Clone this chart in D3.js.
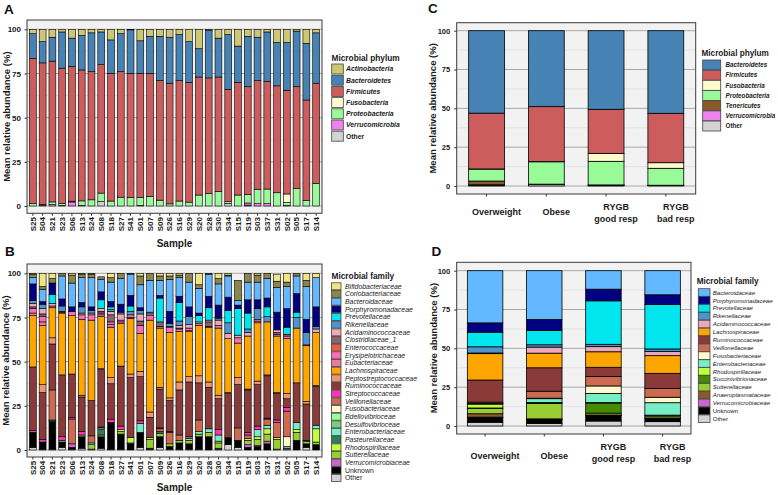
<!DOCTYPE html>
<html><head><meta charset="utf-8">
<script src="https://cdn.jsdelivr.net/npm/d3@7"></script>
<style>body{margin:0;background:#fff}svg{display:block}</style>
</head><body><svg id="c" width="778" height="495"></svg>
<script>
// ---------------- DATA ----------------
const samples = ["S25","S04","S21","S23","S06","S13","S24","S08","S18","S27","S41","S01","S07","S09","S26","S16","S29","S20","S28","S30","S34","S15","S19","S03","S37","S31","S02","S05","S17","S14"];

// Panel A: phylum per sample (legend order = top of stack first)
const phylaA = ["Actinobacteria","Bacteroidetes","Firmicutes","Fusobacteria","Proteobacteria","Verrucomicrobia","Other"];
const aActinobacteria = [2.5,7,4.5,1.5,5,3.5,2,1.5,6,2.5,0.3,6.5,4,4,4.5,3,7,11,0.5,5,3,9.5,4,4.5,1.5,7.5,7.5,1,8,2];
const aBacteroidetes = [14,12,13.5,20.5,16,19.5,22,18.5,19,21.5,24.7,18.5,21,25,26,26,23,16,27,22,31,20.5,28.5,24.5,28,24.5,27,31.5,32,28.5];
const aFirmicutes = [82.2,80.2,79.7,76.5,76.3,74.1,72.5,72.7,72.2,71,70.2,70.2,69.7,67.7,68.3,68.2,67.8,66.8,65.5,64.8,63.5,63.8,61,61.5,60.9,60.5,58.7,57.7,57,56.7];
const aFusobacteria = [0,0,0,0,0,0,0,0,0,0,0,0,0,0,0,0,0,0,0,0,0,0,0,0,0,0,4.8,0,0,0];
const aProteobacteria = [1.3,0.3,1.5,1.2,0.4,2.6,3.5,4.8,2.8,5,4.8,4.5,5.3,3.3,1.2,2.8,2.2,6.2,7,8.2,1.0,6.2,4.8,8.2,8.3,7.5,1.7,9.8,3,12.8];
const aVerrucomicrobia = [0,0,0.8,0,2.3,0,0,0,0,0,0,0,0,0,0,0,0,0,0,0,0,0,1.2,1.3,1.3,0,0,0,0,0];
const aOther = [0,0.5,0,0.3,0,0.3,0,2.5,0,0,0,0.3,0,0,0,0,0,0,0,0,1.5,0,0.5,0,0,0,0.3,0,0,0];

// Panel B: family per sample
const familiesB = ["Bifidobacteriaceae","Coriobacteriaceae","Bacteroidaceae","Porphyromonadaceae","Prevotellaceae","Rikenellaceae","Acidaminococcaceae","Clostridiaceae_1","Enterococcaceae","Erysipelotrichaceae","Eubacteriaceae","Lachnospiraceae","Peptostreptococcaceae","Ruminococcaceae","Streptococcaceae","Veillonellaceae","Fusobacteriaceae","Bdellovibrioceae","Desulfovibrioceae","Enterobacteriaceae","Pasteurellaceae","Rhodospirillaceae","Sutterellaceae","Verrucomicrobiaceae","Unknown","Other"];
const bBifidobacteriaceae = [0.5,7.5,3,0,1,0.5,0.5,0,2.5,0,0,1.5,0,1.5,1.5,1,0,6.5,0,3,1,0,0,1,0,4,5,0,4,2.5];
const bCoriobacteriaceae = [2,1.5,2.5,1.5,4.5,2,2,1.5,2.5,3,0.5,5,4,2.5,2,1.5,5,2,0.5,3,0.5,11.5,5,4,3,3.5,2.5,1.5,3.5,0];
const bBacteroidaceae = [3.5,7,0,13,13.5,14,16.5,7,11,14.5,12,13,18,8.5,18,10.5,14,14,12.5,12,12,2.5,10,10,11,14,12.5,10,18.5,16.5];
const bPorphyromonadaceae = [9.5,1.5,6.5,4,2.5,2.5,2,4.5,3,4.5,6,1.5,0,1.5,7,3.5,5.5,1.5,6.5,7,7.5,2,7.5,5,5,10,10.5,10.5,7.5,11];
const bPrevotellaceae = [0,0,5,0,0,0,0,5,1.5,0,3,0,0,13.5,0,10.5,0,3.5,7,0.5,7,15,9,0,5.5,0,4,3,0,0];
const bRikenellaceae = [1.5,2.5,0,3,0,3.5,1.5,0,1,1,2,2,1,0,1.5,2.5,4.5,0,0,1,6,0,2,6,3,0,0,6,7,1.5];
const bAcidaminococcaceae = [2,3,1.5,0.5,0,1,1,1.5,2,3.5,0,4,1,0,0.5,1.5,2,1,1,3,3,1.5,2,1,0,1.5,0,0,0.5,2];
const bClostridiaceae_1 = [1,1.5,0,0,0,0,0,1,4,0,0,2.5,0,2.5,0,0,0,0,2.5,0,0,0,0,0,0,1,0,0,0,0];
const bEnterococcaceae = [0,0,0,0,0,0,0,0,0,0,0,0,0,0,0,0,0,0,0,0,0,0,0,0,0,0,1,0,0,0];
const bErysipelotrichaceae = [2.5,3,1,0.5,2.5,2.5,3,1,1.5,1,1.5,4.5,2.5,0,3,0.5,1.5,1,0,1.5,0,3,0,1,0,1,1.5,0,0,0];
const bEubacteriaceae = [1.5,2,0,0,0,0,0,1,1.5,1,0.5,0,0,1,0,1.5,0.5,0,0.5,0,0,0,0,0,0,0,0,0,0,0];
const bLachnospiraceae = [29,33.5,17,35,33,43,45.5,29.5,28.5,24,31.5,21.5,52,33.5,37,28.5,25.5,28.5,31,38,30.5,19.5,30,33,30,32,31,31,31.5,30];
const bPeptostreptococcaceae = [0,4.5,3.5,0,0,1,0,0.5,3.5,0,2,3,3,1,1.5,4.5,3,4,3,2,0.5,4,0.5,2,0.5,0.5,3,0,1.5,0.5];
const bRuminococcaceae = [36,26.5,26,35,24.5,19.5,20,32.5,20,34,34,25,11.5,22,17.5,25.5,31,21,23.5,17.5,25,24.5,24,23.5,24,15,5,22.5,20.5,22];
const bStreptococcaceae = [1,1.5,0,2,1,2,0,0.5,2,2,0,1.5,0,0.5,0.5,0,0,0,0,3,0,0,1.5,2,0.5,1.5,2,0,0,0];
const bVeillonellaceae = [0,0,17,0,14,0,4,0,0,0,0,0,0,1.5,6.5,3,1,6.5,0,0,0,7,2,0,3.5,8.5,14.5,0,0,0];
const bFusobacteriaceae = [0,0,0,0,0,0,0,0,0,0,0,0,0,0,0,0,0,0,0,0,0,0,0,0,0,0,5.5,0,0,0];
const bBdellovibrioceae = [0,0,0,0,0,0,0,0,0,0,0,0,0,0,0,0,0,0,0,0,0,0,0,0,0,0,0,0,0,0];
const bDesulfovibrioceae = [0,0,0,0,0,0,0,1,0,0,0,0,0,0,0,0,0,0,0,0,0,0,0,0,0,0,1,0,0,0];
const bEnterobacteriaceae = [0,0,0.5,0,0,0,1,0,0,0,0,5,0,0,0,0,1,1.5,2,3.5,0,0,0,4,2,0,0,4,0,2];
const bPasteurellaceae = [0,0,0,0,0,0,0,3,0,0,0,0,0,1,0,0,0,0,0,0,0,0,0,0,0,0,1,0,0.5,0];
const bRhodospirillaceae = [0,0,0,0,0,0,0,0,0,1,3,0,1,0,0,0,0,0,0,1,0,0,1,1.5,3,1,0,1.5,0,7.5];
const bSutterellaceae = [0,0,0.5,1,0,1,2.5,1,0,1.5,0.5,0,5,2,1.5,1.5,2,1.5,2.5,3,0,0,2.5,3.5,4,5.5,0,4.5,1.5,1.5];
const bVerrucomicrobiaceae = [0,0,0,0,2,0,0,0,0,0,0,0,0,0,0,0,0,0,0,0.5,0,0,1.5,0.5,1.5,0,0,0,0,0];
const bUnknown = [8.5,4,15.5,3,1,6.5,0,6.5,15,8.5,3.5,8.5,0.5,6,1.5,3.5,3,7,7.5,0,4,4,1.5,2,3.5,0,0,5.5,2,3];
const bOther = [1.5,0.5,0.5,1.5,0.5,1,0.5,1,0.5,0.5,0,1.5,0.5,1.5,0.5,0.5,0.5,0.5,0,0.5,3,1.5,0,0,0,0.5,0,0,1.5,0];

// Panel C: phylum per group
const groups = ["Overweight","Obese","RYGB good resp","RYGB bad resp"];
const groupLabels = [["Overweight"],["Obese"],["RYGB","good resp"],["RYGB","bad resp"]];
const phylaC = ["Bacteroidetes","Firmicutes","Fusobacteria","Proteobacteria","Tenericutes","Verrucomicrobia","Other"];
const cBacteroidetes = [53.1,48.9,50.6,53.2];
const cFirmicutes = [35.9,35.4,28.4,31.8];
const cFusobacteria = [0.1,0.1,5.1,3.6];
const cProteobacteria = [7.7,14.4,15.2,10.9];
const cTenericutes = [2.4,0.2,0.1,0.1];
const cVerrucomicrobia = [0.3,0.0,0.2,0.1];
const cOther = [0.5,1.0,0.4,0.3];

// Panel D: family per group
const familiesD = ["Bacteroidaceae","Porphyromonadaceae","Prevotellaceae","Rikenellaceae","Acidaminococcaceae","Lachnospiraceae","Ruminococcaceae","Veillonellaceae","Fusobacteriaceae","Enterobacteriaceae","Rhodospirillaceae","Succinivibrionaceae","Sutterellaceae","Anaeroplasmataceae","Verrucomicrobiaceae","Unknown","Other"];
const dBacteroidaceae = [33.6,31.4,11.9,15.5];
const dPorphyromonadaceae = [6.0,7.1,7.5,6.2];
const dPrevotellaceae = [9.4,9.2,28.0,28.7];
const dRikenellaceae = [4.0,1.5,1.5,1.7];
const dAcidaminococcaceae = [0.4,3.9,3.3,2.6];
const dLachnospiraceae = [17.0,9.4,10.0,11.4];
const dRuminococcaceae = [14.2,15.1,6.0,9.7];
const dVeillonellaceae = [0.8,4.5,6.0,5.7];
const dFusobacteriaceae = [0.2,0.3,4.8,3.5];
const dEnterobacteriaceae = [0.3,2.5,5.9,8.0];
const dRhodospirillaceae = [2.5,0.3,0.3,0.3];
const dSuccinivibrionaceae = [0.2,0.2,6.5,0.3];
const dSutterellaceae = [3.5,10.0,1.2,1.2];
const dAnaeroplasmataceae = [2.2,0.5,0.2,0.2];
const dVerrucomicrobiaceae = [0.3,0.2,0.2,0.1];
const dUnknown = [3.0,2.2,3.5,2.1];
const dOther = [2.4,1.7,3.2,2.8];

const yTicks = [0,25,50,75,100];

// ---------------- STYLE ----------------
const FONT = '"Liberation Sans", Arial, Helvetica, sans-serif';
const phylumColors = {Actinobacteria:"#CDC673",Bacteroidetes:"#4682B4",Firmicutes:"#CD5C5C",Fusobacteria:"#FFFACD",Proteobacteria:"#98FB98",Tenericutes:"#8B5A2B",Verrucomicrobia:"#EE82EE",Other:"#D3D3D3"};
const familyColors = {Bifidobacteriaceae:"#EEE685",Coriobacteriaceae:"#8B864E",Bacteroidaceae:"#63B8FF",Porphyromonadaceae:"#000080",Prevotellaceae:"#00E5EE",Rikenellaceae:"#4F94CD",Acidaminococcaceae:"#EEA9B8",Clostridiaceae_1:"#8B636C",Enterococcaceae:"#EE5C42",Erysipelotrichaceae:"#FF6EB4",Eubacteriaceae:"#EE799F",Lachnospiraceae:"#FFA500",Peptostreptococcaceae:"#EE9572",Ruminococcaceae:"#8B3A3A",Streptococcaceae:"#FF34B3",Veillonellaceae:"#CD6A50",Fusobacteriaceae:"#FFFACD",Bdellovibrioceae:"#9AFF9A",Desulfovibrioceae:"#7CCD7C",Enterobacteriaceae:"#76EEC6",Pasteurellaceae:"#2E7D5B",Rhodospirillaceae:"#C0FF3E",Sutterellaceae:"#9ACD32",Succinivibrionaceae:"#458B00",Anaeroplasmataceae:"#8B5A2B",Verrucomicrobiaceae:"#CC66CC",Unknown:"#000000",Other:"#D3D3D3"};

const svg = d3.select("#c").attr("font-family", FONT);
svg.append("rect").attr("width",778).attr("height",495).attr("fill","#fff");

function panel(o){
  const g = svg.append("g");
  const [x0,y0,x1,y1] = o.box;
  g.append("rect").attr("x",x0).attr("y",y0).attr("width",x1-x0).attr("height",y1-y0).attr("fill","#F2F2F2");
  const y = d3.scaleLinear().domain([0,100]).range([o.yZero,o.yHundred]);
  const minor = yTicks.slice(0,-1).map((v,i)=>(v+yTicks[i+1])/2);
  g.selectAll(null).data(minor).enter().append("line")
    .attr("x1",x0).attr("x2",x1).attr("y1",d=>y(d)).attr("y2",d=>y(d))
    .attr("stroke","#D9D9D9").attr("stroke-width",0.6);
  g.selectAll(null).data(yTicks).enter().append("line")
    .attr("x1",x0).attr("x2",x1).attr("y1",d=>y(d)).attr("y2",d=>y(d))
    .attr("stroke","#A8A8A8").attr("stroke-width",1);
  const x = d3.scaleBand().domain(o.cats).range([x0,x1]).paddingInner(o.pi).paddingOuter(o.po);
  const rows = o.cats.map((c,i)=>{const r={cat:c}; o.series.forEach(s=>{r[s.name]=s.values[i];}); return r;});
  const keys = o.series.map(s=>s.name).slice().reverse();
  const col = {}; o.series.forEach(s=>{col[s.name]=s.color;});
  const layers = d3.stack().keys(keys)(rows);
  g.selectAll(null).data(layers).enter().append("g").attr("fill",d=>col[d.key])
    .selectAll("rect").data(d=>d.filter(p=>p[1]-p[0]>0)).enter().append("rect")
    .attr("x",d=>x(d.data.cat)).attr("width",x.bandwidth())
    .attr("y",d=>y(d[1])).attr("height",d=>y(d[0])-y(d[1]))
    .attr("stroke","#000").attr("stroke-width",o.sw);
  g.append("rect").attr("x",x0).attr("y",y0).attr("width",x1-x0).attr("height",y1-y0)
    .attr("fill","none").attr("stroke","#3a3a3a").attr("stroke-width",1);
  const ya = g.append("g").attr("transform",`translate(${x0},0)`)
    .call(d3.axisLeft(y).tickValues(yTicks).tickSize(2.5).tickPadding(o.tickPad));
  ya.attr("font-family",FONT).attr("font-size",o.tickFs).attr("font-weight","bold");
  ya.select(".domain").remove();
  ya.selectAll("line").attr("stroke","#333");
  ya.selectAll("text").attr("fill","#1a1a1a");
  const xa = g.append("g").attr("transform",`translate(0,${y1})`)
    .call(d3.axisBottom(x).tickSize(2.5).tickSizeOuter(0));
  xa.attr("font-family",FONT).attr("font-size",o.xFs).attr("font-weight","bold");
  xa.select(".domain").remove();
  xa.selectAll("line").attr("stroke","#333");
  if (o.rotate){
    xa.selectAll("text").attr("transform","rotate(-90)").attr("text-anchor","end")
      .attr("x",-3.8).attr("y",0).attr("dy","0.35em").attr("fill","#1a1a1a");
  } else {
    xa.selectAll("text").remove();
  }
  g.append("text").attr("transform",`translate(${o.yTitleX},${(y0+y1)/2}) rotate(-90)`)
    .attr("text-anchor","middle").attr("dy","0.35em").attr("font-size",9.5).attr("font-weight","bold")
    .attr("fill","#1a1a1a").text("Mean relative abundance (%)");
  return {x,y,g};
}

function legend(o){
  const g = svg.append("g");
  g.append("text").attr("x",o.x).attr("y",o.titleY).attr("font-size",o.titleFs).attr("font-weight","bold")
    .attr("fill","#1a1a1a").text(o.title);
  const it = g.selectAll(null).data(o.items).enter().append("g")
    .attr("transform",(d,i)=>`translate(0,${o.c0+i*o.step})`);
  it.append("rect").attr("x",o.keyX).attr("y",-o.keyH/2).attr("width",o.keyW).attr("height",o.keyH)
    .attr("fill",d=>d.color).attr("stroke","#444").attr("stroke-width",0.8);
  it.append("text").attr("x",o.labelX).attr("dy","0.35em").attr("font-size",o.fs)
    .attr("font-weight",o.bold?"bold":"normal")
    .attr("font-style",d=>(d.name==="Other"||d.name==="Unknown")?"normal":"italic")
    .attr("fill","#1a1a1a").text(d=>d.name);
}

function letter(t,x,y){ svg.append("text").attr("x",x).attr("y",y).attr("font-size",13.5).attr("font-weight","bold").attr("fill","#111").text(t); }

// ---------------- PANEL A ----------------
const seriesA = [aActinobacteria,aBacteroidetes,aFirmicutes,aFusobacteria,aProteobacteria,aVerrucomicrobia,aOther]
  .map((v,i)=>({name:phylaA[i],values:v,color:phylumColors[phylaA[i]]}));
panel({box:[27,20,322,213.3],yZero:206,yHundred:29.3,cats:samples,series:seriesA,pi:0.3,po:0.25,sw:0.6,
  tickFs:8,tickPad:3.5,xFs:8,rotate:true,yTitleX:7});
svg.append("text").attr("x",174.5).attr("y",247).attr("text-anchor","middle").attr("font-size",10).attr("font-weight","bold").attr("fill","#1a1a1a").text("Sample");
legend({x:331.5,titleY:60.5,title:"Microbial phylum",titleFs:8.3,items:seriesA,c0:69,step:11.2,keyX:331.7,keyW:11.6,keyH:10,labelX:346,fs:6.8,bold:true});
letter("A",4,13.5);

// ---------------- PANEL B ----------------
const valuesB = [bBifidobacteriaceae,bCoriobacteriaceae,bBacteroidaceae,bPorphyromonadaceae,bPrevotellaceae,bRikenellaceae,bAcidaminococcaceae,bClostridiaceae_1,bEnterococcaceae,bErysipelotrichaceae,bEubacteriaceae,bLachnospiraceae,bPeptostreptococcaceae,bRuminococcaceae,bStreptococcaceae,bVeillonellaceae,bFusobacteriaceae,bBdellovibrioceae,bDesulfovibrioceae,bEnterobacteriaceae,bPasteurellaceae,bRhodospirillaceae,bSutterellaceae,bVerrucomicrobiaceae,bUnknown,bOther];
const seriesB = valuesB.map((v,i)=>({name:familiesB[i],values:v,color:familyColors[familiesB[i]]}));
panel({box:[27,264,322,457],yZero:450,yHundred:273.3,cats:samples,series:seriesB,pi:0.3,po:0.25,sw:0.6,
  tickFs:8,tickPad:3.5,xFs:8,rotate:true,yTitleX:6});
svg.append("text").attr("x",174.5).attr("y",491).attr("text-anchor","middle").attr("font-size",10).attr("font-weight","bold").attr("fill","#1a1a1a").text("Sample");
legend({x:331.5,titleY:279,title:"Microbial family",titleFs:8.3,items:seriesB,c0:286.3,step:7.67,keyX:331.5,keyW:9.5,keyH:7,labelX:345,fs:6.9,bold:false});
letter("B",5,256);

// ---------------- PANEL C ----------------
const seriesC = [cBacteroidetes,cFirmicutes,cFusobacteria,cProteobacteria,cTenericutes,cVerrucomicrobia,cOther]
  .map((v,i)=>({name:phylaC[i],values:v,color:phylumColors[phylaC[i]]}));
const pc = panel({box:[456.7,22.7,695.7,194],yZero:186,yHundred:30.7,cats:groups,series:seriesC,pi:0.4,po:0.2,sw:0.8,
  tickFs:7.5,tickPad:4,xFs:9,rotate:false,yTitleX:432.7});
function groupLabelsDraw(p, yTop, ySingle){
  groups.forEach((gname,i)=>{
    const lines = groupLabels[i];
    const cx = p.x(gname)+p.x.bandwidth()/2 + 10;
    const t = svg.append("text").attr("text-anchor","middle").attr("font-size",9).attr("font-weight","bold").attr("fill","#1a1a1a");
    if (lines.length===1){ t.append("tspan").attr("x",cx).attr("y",ySingle).text(lines[0]); }
    else lines.forEach((l,j)=>t.append("tspan").attr("x",cx).attr("y",yTop+j*11.5).text(l));
  });
}
groupLabelsDraw(pc,210,214.5);
legend({x:701.5,titleY:56,title:"Microbial phylum",titleFs:8.2,items:seriesC,c0:65,step:10.17,keyX:702.7,keyW:18,keyH:10,labelX:725.5,fs:6.3,bold:true});
letter("C",428,13.3);

// ---------------- PANEL D ----------------
const valuesD = [dBacteroidaceae,dPorphyromonadaceae,dPrevotellaceae,dRikenellaceae,dAcidaminococcaceae,dLachnospiraceae,dRuminococcaceae,dVeillonellaceae,dFusobacteriaceae,dEnterobacteriaceae,dRhodospirillaceae,dSuccinivibrionaceae,dSutterellaceae,dAnaeroplasmataceae,dVerrucomicrobiaceae,dUnknown,dOther];
const seriesD = valuesD.map((v,i)=>({name:familiesD[i],values:v,color:familyColors[familiesD[i]]}));
const pd = panel({box:[456.7,262.3,691,434],yZero:426,yHundred:270.7,cats:groups,series:seriesD,pi:0.4,po:0.18,sw:0.8,
  tickFs:7.5,tickPad:4,xFs:9,rotate:false,yTitleX:433.7});
groupLabelsDraw(pd,450,458.5);
legend({x:696.7,titleY:284,title:"Microbial family",titleFs:8.2,items:seriesD,c0:292.5,step:7.89,keyX:698.3,keyW:11.7,keyH:7.6,labelX:712.7,fs:6.1,bold:false});
letter("D",431.5,255.7);
</script></body></html>
